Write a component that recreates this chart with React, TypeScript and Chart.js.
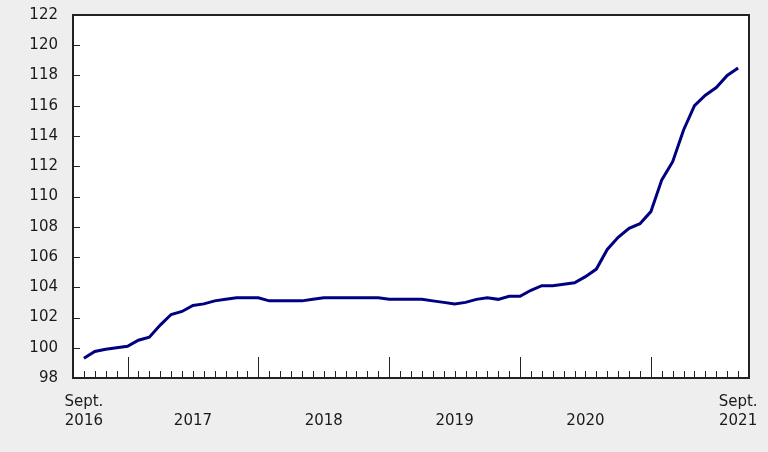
import React, { useEffect, useRef } from "react";
import { Chart, registerables } from "chart.js";

Chart.register(...registerables);

const categories = [
  "2016-09", "2016-10", "2016-11", "2016-12",
  "2017-01", "2017-02", "2017-03", "2017-04", "2017-05", "2017-06", "2017-07", "2017-08", "2017-09", "2017-10", "2017-11", "2017-12",
  "2018-01", "2018-02", "2018-03", "2018-04", "2018-05", "2018-06", "2018-07", "2018-08", "2018-09", "2018-10", "2018-11", "2018-12",
  "2019-01", "2019-02", "2019-03", "2019-04", "2019-05", "2019-06", "2019-07", "2019-08", "2019-09", "2019-10", "2019-11", "2019-12",
  "2020-01", "2020-02", "2020-03", "2020-04", "2020-05", "2020-06", "2020-07", "2020-08", "2020-09", "2020-10", "2020-11", "2020-12",
  "2021-01", "2021-02", "2021-03", "2021-04", "2021-05", "2021-06", "2021-07", "2021-08", "2021-09",
];

const values = [
  99.3, 99.75, 99.9, 100.0,
  100.1, 100.5, 100.7, 101.5, 102.2, 102.4, 102.8, 102.9, 103.1, 103.2, 103.3, 103.3,
  103.3, 103.1, 103.1, 103.1, 103.1, 103.2, 103.3, 103.3, 103.3, 103.3, 103.3, 103.3,
  103.2, 103.2, 103.2, 103.2, 103.1, 103.0, 102.9, 103.0, 103.2, 103.3, 103.2, 103.4,
  103.4, 103.8, 104.1, 104.1, 104.2, 104.3, 104.7, 105.2, 106.5, 107.3, 107.9, 108.2,
  109.0, 111.1, 112.3, 114.4, 116.0, 116.7, 117.2, 118.0, 118.5,
];

const xLabelIndexes = [0, 10, 22, 34, 46, 60];
const xLabelTexts = [
  ["Sept.", "2016"],
  ["", "2017"],
  ["", "2018"],
  ["", "2019"],
  ["", "2020"],
  ["Sept.", "2021"],
];

const yMin = 98;
const yMax = 122;
const yStep = 2;

const FONT = "'DejaVu Sans', Verdana, sans-serif";
const TEXT = "#1a1a1a";
const AXIS = "#222222";

const framePlugin = {
  id: "frame",
  beforeDraw(chart: any) {
    const { ctx, chartArea, width, height } = chart;
    ctx.save();
    ctx.fillStyle = "#eeeeee";
    ctx.fillRect(0, 0, width, height);
    ctx.fillStyle = "#ffffff";
    ctx.fillRect(chartArea.left, chartArea.top, chartArea.right - chartArea.left, chartArea.bottom - chartArea.top);
    ctx.restore();
  },
  afterDraw(chart: any) {
    const { ctx, chartArea } = chart;
    const xs = chart.scales.x;
    const ys = chart.scales.y;
    ctx.save();
    ctx.strokeStyle = AXIS;
    ctx.lineWidth = 1;
    ctx.beginPath();
    // y ticks (inward)
    ys.ticks.forEach((t: any) => {
      const py = Math.round(ys.getPixelForValue(t.value)) + 0.5;
      ctx.moveTo(chartArea.left, py);
      ctx.lineTo(chartArea.left + 7, py);
    });
    // x ticks (inward): minor each month, major each January
    categories.forEach((c, i) => {
      const px = Math.round(xs.getPixelForValue(i)) + 0.5;
      const len = c.endsWith("-01") ? 21 : 7;
      ctx.moveTo(px, chartArea.bottom);
      ctx.lineTo(px, chartArea.bottom - len);
    });
    ctx.stroke();
    ctx.lineWidth = 2;
    ctx.strokeRect(chartArea.left, chartArea.top, chartArea.right - chartArea.left, chartArea.bottom - chartArea.top);
    ctx.restore();
  },
};

export default function App() {
  const ref = useRef<HTMLCanvasElement>(null);

  useEffect(() => {
    document.body.style.margin = "0";
    document.body.style.background = "#eeeeee";
    if (!ref.current) return;
    const chart = new Chart(ref.current, {
      type: "line",
      data: {
        datasets: [
          {
            data: values.map((v, i) => ({ x: i, y: v })),
            borderColor: "#000080",
            borderWidth: 3,
            pointRadius: 0,
            tension: 0,
            fill: false,
          },
        ],
      },
      options: {
        animation: false,
        responsive: false,
        maintainAspectRatio: false,
        layout: { padding: { left: 0, right: 19, top: 15, bottom: 0 } },
        plugins: { legend: { display: false }, tooltip: { enabled: false } },
        scales: {
          x: {
            type: "linear",
            min: -1,
            max: categories.length,
            grid: { display: false, drawTicks: false },
            border: { display: false },
            afterBuildTicks(scale: any) {
              scale.ticks = xLabelIndexes.map((v) => ({ value: v }));
            },
            afterFit(scale: any) {
              scale.height = 74;
              scale.paddingLeft = 0;
              scale.paddingRight = 0;
            },
            ticks: {
              autoSkip: false,
              maxRotation: 0,
              padding: 15,
              color: TEXT,
              font: { family: FONT, size: 15, lineHeight: 1.27 },
              callback: (v: any) => {
                const k = xLabelIndexes.indexOf(Number(v));
                return k >= 0 ? xLabelTexts[k] : "";
              },
            },
          },
          y: {
            min: yMin,
            max: yMax,
            grid: { display: false, drawTicks: false },
            border: { display: false },
            afterFit(scale: any) {
              scale.width = 73;
              scale.paddingTop = 0;
              scale.paddingBottom = 0;
            },
            ticks: {
              stepSize: yStep,
              padding: 15,
              color: TEXT,
              font: { family: FONT, size: 15 },
            },
          },
        },
      },
      plugins: [framePlugin],
    });
    return () => chart.destroy();
  }, []);

  return <canvas ref={ref} width={768} height={452} style={{ display: "block" }} />;
}
